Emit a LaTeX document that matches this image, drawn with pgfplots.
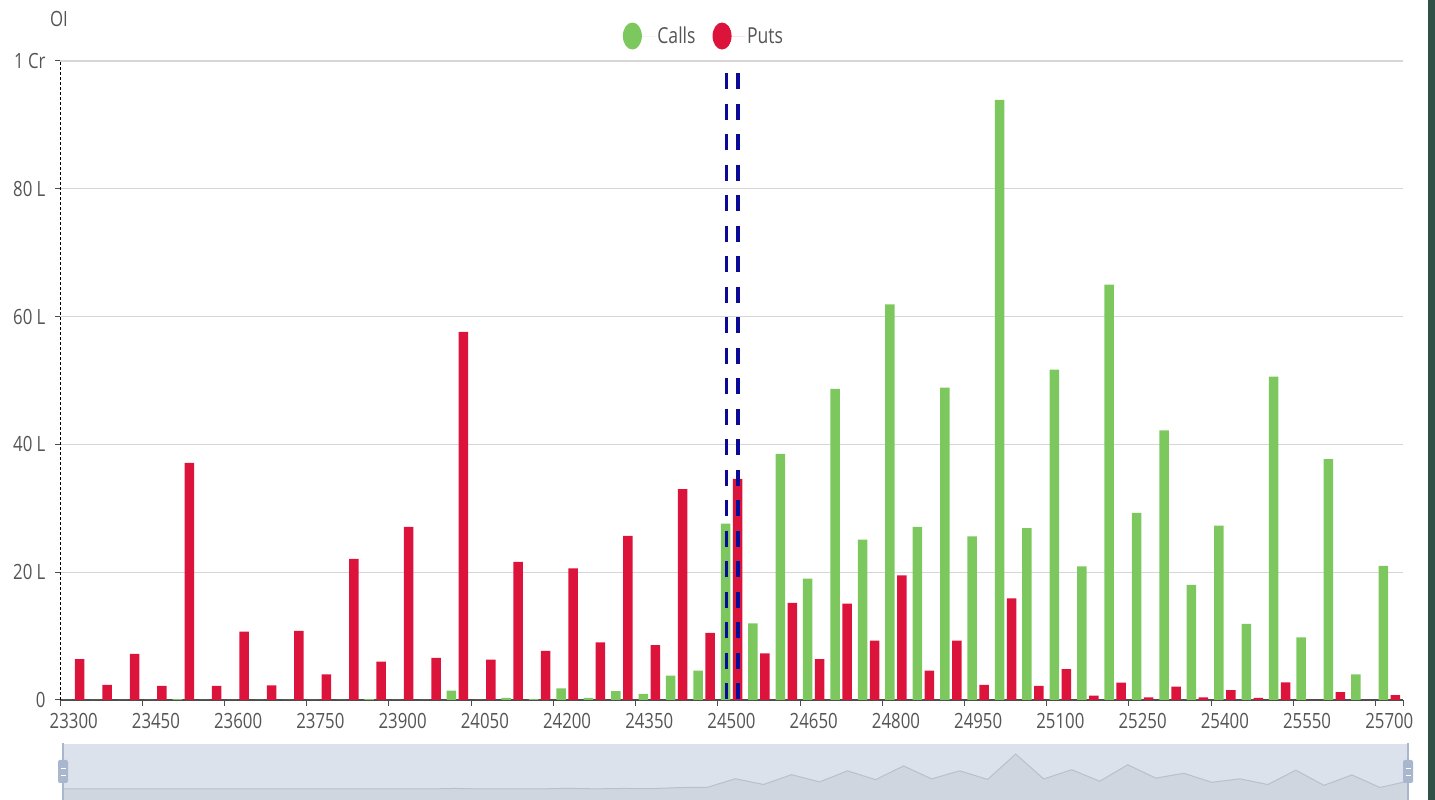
\documentclass[border=0pt]{standalone}
\usepackage{pgfplots}
\pgfplotsset{compat=1.18}
\usepackage{pgfplotstable}
\usepackage{fontspec}
\setmainfont{Open Sans}[FakeStretch=0.8]

\definecolor{callgreen}{HTML}{7CC85F}
\definecolor{putred}{HTML}{DC143C}
\definecolor{navyline}{HTML}{0A0A96}
\definecolor{gridgray}{HTML}{D6D6D6}
\definecolor{axisgray}{HTML}{4D4D4D}
\definecolor{textgray}{HTML}{555555}
\definecolor{sliderbg}{HTML}{DCE2EB}
\definecolor{shadowfill}{HTML}{D0D6E0}
\definecolor{shadowline}{HTML}{B9C0CC}
\definecolor{handlecol}{HTML}{A8B7CE}
\definecolor{stripcol}{HTML}{2F5147}

\pgfplotsset{dotlegend/.style={legend image code/.code={%
  \fill[##1] (0pt,0pt) ellipse (9.5pt and 13.5pt);
  \path (-9.5pt,0pt) -- (23pt,0pt);}}}

\pgfplotstableread{
i calls puts
0 0 6.4
1 0 2.35
2 0 7.2
3 0 2.2
4 0.15 37.1
5 0 2.2
6 0 10.7
7 0 2.3
8 0 10.8
9 0 4.0
10 0 22.1
11 0.15 6.0
12 0 27.1
13 0 6.6
14 1.45 57.6
15 0 6.3
16 0.35 21.6
17 0.15 7.7
18 1.8 20.6
19 0.35 9.0
20 1.4 25.7
21 0.95 8.6
22 3.8 33.0
23 4.6 10.5
24 27.6 34.6
25 12.0 7.3
26 38.5 15.2
27 19.0 6.4
28 48.7 15.1
29 25.1 9.3
30 61.9 19.5
31 27.1 4.6
32 48.9 9.3
33 25.6 2.35
34 93.9 15.9
35 26.9 2.2
36 51.7 4.85
37 20.9 0.7
38 65.0 2.7
39 29.3 0.4
40 42.2 2.1
41 18.0 0.4
42 27.3 1.55
43 11.9 0.35
44 50.6 2.75
45 9.8 0
46 37.7 1.25
47 4.0 0
48 21.0 0.75
}\oi

\begin{document}
\begin{tikzpicture}
\useasboundingbox (0pt,0pt) rectangle (1435pt,800pt);
\fill[stripcol] (1428pt,0pt) rectangle (1435pt,800pt);

\begin{axis}[
  at={(60pt,100pt)}, anchor=south west,
  scale only axis, width=1343pt, height=639pt,
  xmin=-0.5, xmax=48.5, ymin=0, ymax=100,
  axis x line=bottom, axis y line=left,
  axis line style={-},
  x axis line style={draw=axisgray, line width=1.3pt},
  y axis line style={draw=black, line width=0.8pt, dash pattern=on 3pt off 2pt},
  ytick={0,20,...,100},
  yticklabels={0,20 L,40 L,60 L,80 L,1 Cr},
  xtick={0,3,...,48},
  xticklabels={23300,23450,23600,23750,23900,24050,24200,24350,24500,24650,24800,24950,25100,25250,25400,25550,25700},
  tick align=outside,
  major tick length=5pt,
  xtick style={draw=none},
  ytick style={draw=axisgray, line width=1pt},
  extra x ticks={-0.5,2.5,...,47.5,48.5},
  extra x tick labels={},
  extra x tick style={grid=none, major tick length=6pt, xtick style={draw=axisgray, line width=1pt}},
  ymajorgrids,
  major grid style={draw=gridgray, line width=1.3pt},
  /pgf/number format/assume math mode=true,
  ticklabel style={font=\fontsize{21}{24}\selectfont, text=textgray},
  yticklabel style={xshift=-6pt},
  xticklabel style={yshift=-5pt},
  legend columns=2,
  legend style={at={(0.4795,1.0391)}, anchor=center, draw=none, fill=none,
    font=\fontsize{22}{26}\selectfont, text=textgray,
    /tikz/every even column/.append style={column sep=15pt}},
]
\addplot[ybar, bar width=9.5pt, bar shift=-6pt, fill=callgreen, draw=none, dotlegend]
  table[x=i, y=calls] {\oi};
\addlegendentry{Calls}
\addplot[ybar, bar width=9.5pt, bar shift=6pt, fill=putred, draw=none, dotlegend]
  table[x=i, y=puts] {\oi};
\addlegendentry{Puts}
\addplot[navyline, line width=3.3pt, dash pattern=on 16pt off 14.5pt, forget plot]
  coordinates {(23.82,98.1) (23.82,0)};
\addplot[navyline, line width=3.3pt, dash pattern=on 16pt off 14.5pt, forget plot]
  coordinates {(24.24,98.1) (24.24,0)};
\end{axis}

\begin{axis}[
  at={(63pt,0pt)}, anchor=south west,
  scale only axis, width=1345pt, height=56pt,
  xmin=0, xmax=48, ymin=-29.6, ymax=120.9,
  hide axis, clip=true,
]
\fill[sliderbg] (rel axis cs:0,0) rectangle (rel axis cs:1,1);
\addplot[fill=shadowfill, draw=none] table[x=i, y=calls] {\oi} \closedcycle;
\fill[shadowfill] (axis cs:0,-29.6) rectangle (axis cs:48,0);
\addplot[draw=shadowline, line width=1pt] table[x=i, y=calls] {\oi};
\end{axis}

% slider edges and handles
\draw[handlecol, line width=1.5pt] (63pt,0pt) -- (63pt,57pt);
\draw[handlecol, line width=1.5pt] (1408pt,0pt) -- (1408pt,57pt);
\fill[handlecol, rounded corners=2pt] (58pt,17pt) rectangle (68pt,40pt);
\fill[handlecol, rounded corners=2pt] (1403pt,17pt) rectangle (1413pt,40pt);
\foreach \xx in {63,1408}{
  \draw[white, line width=0.8pt] (\xx pt-2.5pt,25pt) -- (\xx pt+2.5pt,25pt);
  \draw[white, line width=0.8pt] (\xx pt-2.5pt,32pt) -- (\xx pt+2.5pt,32pt);
}

\node[text=textgray, font=\fontsize{21}{24}\selectfont] at (59pt,781pt) {OI};
\end{tikzpicture}
\end{document}
